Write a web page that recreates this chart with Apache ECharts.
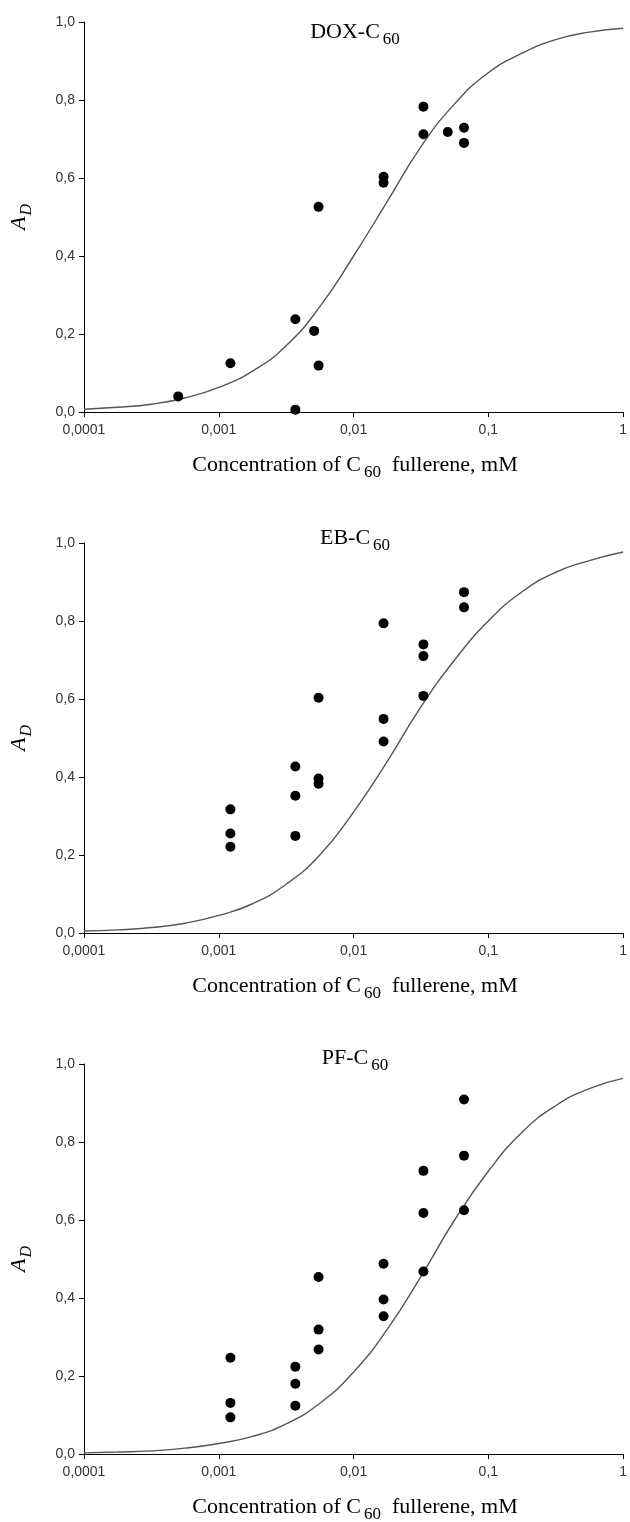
<!DOCTYPE html>
<html>
<head>
<meta charset="utf-8">
<script src="https://cdn.jsdelivr.net/npm/echarts@6/dist/echarts.min.js"></script>
<style>
html,body{margin:0;padding:0;background:#fff;}
#chart{width:630px;height:1522px;}
</style>
</head>
<body>
<div id="chart"></div>
<script>
// ---- data ----
const panelNames = ['DOX-C', 'EB-C', 'PF-C'];
const xTickLabels = ['0,0001', '0,001', '0,01', '0,1', '1'];
const yTickLabels = ['0,0', '0,2', '0,4', '0,6', '0,8', '1,0'];

const doxX = [0.0005, 0.00122, 0.0037, 0.0037, 0.0051, 0.0055, 0.0055, 0.0167, 0.0167, 0.033, 0.033, 0.050, 0.066, 0.066];
const doxY = [0.040, 0.125, 0.238, 0.006, 0.208, 0.526, 0.119, 0.603, 0.588, 0.783, 0.712, 0.718, 0.729, 0.690];

const ebX = [0.00122, 0.00122, 0.00122, 0.0037, 0.0037, 0.0037, 0.0055, 0.0055, 0.0055, 0.0167, 0.0167, 0.0167, 0.033, 0.033, 0.033, 0.066, 0.066];
const ebY = [0.317, 0.255, 0.221, 0.427, 0.352, 0.249, 0.603, 0.396, 0.383, 0.794, 0.549, 0.491, 0.740, 0.710, 0.608, 0.874, 0.835];

const pfX = [0.00122, 0.00122, 0.00122, 0.0037, 0.0037, 0.0037, 0.0055, 0.0055, 0.0055, 0.0167, 0.0167, 0.0167, 0.033, 0.033, 0.033, 0.066, 0.066, 0.066];
const pfY = [0.247, 0.131, 0.094, 0.224, 0.180, 0.124, 0.454, 0.319, 0.268, 0.488, 0.396, 0.353, 0.726, 0.618, 0.468, 0.909, 0.765, 0.625];

// fitted curves
const curveX = [0.0001, 0.000178, 0.000316, 0.000562, 0.001, 0.00178, 0.00316, 0.00562, 0.01, 0.0178, 0.0316, 0.0562, 0.1, 0.178, 0.316, 0.562, 1];
const doxCurve = [0.007, 0.012, 0.020, 0.036, 0.063, 0.105, 0.170, 0.270, 0.400, 0.540, 0.680, 0.790, 0.870, 0.920, 0.955, 0.974, 0.984];
const ebCurve  = [0.005, 0.008, 0.014, 0.025, 0.045, 0.075, 0.125, 0.200, 0.310, 0.440, 0.580, 0.700, 0.800, 0.875, 0.925, 0.955, 0.977];
const pfCurve  = [0.003, 0.005, 0.008, 0.015, 0.027, 0.045, 0.077, 0.130, 0.210, 0.320, 0.455, 0.600, 0.725, 0.825, 0.893, 0.937, 0.963];

// ---- layout ----
const gridTops = [22, 543, 1064];
const gridLeft = 84, gridW = 543, gridH = 390;
const SERIF = '"Liberation Serif", "Times New Roman", serif';
const SANS = '"Liberation Sans", Arial, sans-serif';

const pts = [[doxX, doxY], [ebX, ebY], [pfX, pfY]];
const curves = [doxCurve, ebCurve, pfCurve];
const titleY = [33, 539, 1059];

const chart = echarts.init(document.getElementById('chart'), null, {renderer: 'canvas'});

const grids = [], xAxes = [], yAxes = [], series = [], graphics = [];
const richBase = {
  b: {fontFamily: SERIF, fontSize: 22, lineHeight: 24, color: '#111', verticalAlign: 'top'},
  s: {fontFamily: SERIF, fontSize: 17, lineHeight: 18, color: '#111', verticalAlign: 'top', padding: [10, 0, 0, 3]}
};
const richY = {
  b: {fontFamily: SERIF, fontStyle: 'italic', fontSize: 22, lineHeight: 24, color: '#222', verticalAlign: 'top'},
  s: {fontFamily: SERIF, fontStyle: 'italic', fontSize: 16, lineHeight: 16, color: '#222', verticalAlign: 'top', padding: [11, 0, 0, 1]}
};

for (let i = 0; i < 3; i++) {
  grids.push({left: gridLeft, top: gridTops[i], width: gridW, height: gridH});
  xAxes.push({
    type: 'log', logBase: 10, min: 0.0001, max: 1, gridIndex: i,
    axisLine: {show: true, onZero: false, lineStyle: {color: '#000', width: 1}},
    axisTick: {show: true, inside: false, length: 5, lineStyle: {color: '#000', width: 1}},
    minorTick: {show: false},
    splitLine: {show: false},
    axisLabel: {
      fontFamily: SANS, fontSize: 14, color: '#333', margin: 11,
      formatter: v => xTickLabels[Math.round(Math.log10(v)) + 4]
    }
  });
  yAxes.push({
    type: 'value', min: 0, max: 1, interval: 0.2, gridIndex: i,
    axisLine: {show: true, onZero: false, lineStyle: {color: '#000', width: 1}},
    axisTick: {show: true, inside: false, length: 5, lineStyle: {color: '#000', width: 1}},
    splitLine: {show: false},
    axisLabel: {
      fontFamily: SANS, fontSize: 14, color: '#333', margin: 9,
      formatter: v => yTickLabels[Math.round(v * 5)]
    }
  });
  series.push({
    type: 'line', xAxisIndex: i, yAxisIndex: i, smooth: 0.5, showSymbol: false,
    lineStyle: {color: '#555', width: 1.4},
    data: curveX.map((x, k) => [x, curves[i][k]]),
    z: 2
  });
  series.push({
    type: 'scatter', xAxisIndex: i, yAxisIndex: i, symbol: 'circle', symbolSize: 10,
    itemStyle: {color: '#000', opacity: 1},
    data: pts[i][0].map((x, k) => [x, pts[i][1][k]]),
    z: 3
  });
  // panel title
  graphics.push({
    type: 'text', x: 355, y: titleY[i] - 12,
    style: {text: '{b|' + panelNames[i] + '}{s|60}', rich: richBase, align: 'center', verticalAlign: 'top'}
  });
  // x axis title
  graphics.push({
    type: 'text', x: 355, y: gridTops[i] + gridH + 54 - 12,
    style: {text: '{b|Concentration of C}{s|60}{b|  fullerene, mM}', rich: richBase, align: 'center', verticalAlign: 'top'}
  });
  // y axis title
  graphics.push({
    type: 'text', x: 20, y: gridTops[i] + gridH / 2, rotation: Math.PI / 2,
    style: {text: '{b|A}{s|D}', rich: richY, align: 'center', verticalAlign: 'middle'}
  });
}

chart.setOption({
  animation: false,
  backgroundColor: '#fff',
  grid: grids,
  xAxis: xAxes,
  yAxis: yAxes,
  series: series,
  graphic: graphics
});
</script>
</body>
</html>
